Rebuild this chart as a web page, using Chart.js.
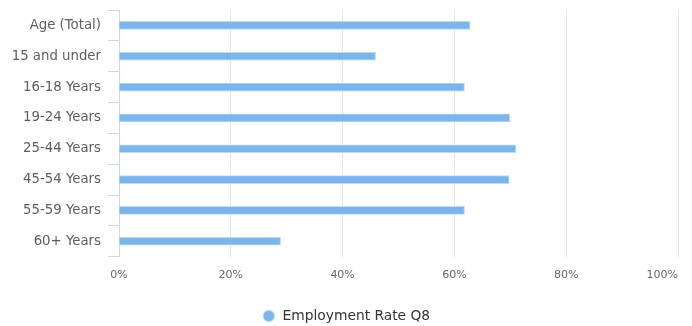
<!DOCTYPE html>
<html>
<head>
<meta charset="utf-8">
<title>Employment Rate Q8 by Age</title>
<script src="https://cdn.jsdelivr.net/npm/chart.js@4/dist/chart.umd.min.js"></script>
<style>
  html, body { margin: 0; padding: 0; background: #ffffff; }
  #wrap { width: 692px; height: 326px; position: relative; }
</style>
</head>
<body>
<div id="wrap"><canvas id="chart"></canvas></div>
<script>
// Age groups shown down the vertical axis
const categories = ['Age (Total)', '15 and under', '16-18 Years', '19-24 Years',
                    '25-44 Years', '45-54 Years', '55-59 Years', '60+ Years'];
// Employment rate (%) for each age group
const employmentRate = [62.8, 45.9, 61.8, 69.9, 71.0, 69.8, 61.8, 28.9];
// Percentage ticks along the horizontal axis
const rateTicks = [0, 20, 40, 60, 80, 100];
const seriesName = 'Employment Rate Q8';

const FONT = "'DejaVu Sans', Verdana, sans-serif";

// Keep the last x tick label ("100%") inside the plot by right-aligning it
const lastTickInside = {
  id: 'lastTickInside',
  beforeDraw(chart) {
    const sc = chart.scales.x;
    const items = sc.getLabelItems(chart.chartArea);
    const last = items[items.length - 1];
    if (last) last.options.textAlign = 'right';
  }
};

new Chart(document.getElementById('chart'), {
  type: 'bar',
  data: {
    labels: categories,
    datasets: [{
      label: seriesName,
      data: employmentRate,
      backgroundColor: '#7cb5ec',
      borderColor: '#bcd9f5',
      borderWidth: 1,
      borderSkipped: 'start',
      barThickness: 8,
      pointStyle: 'circle'
    }]
  },
  options: {
    indexAxis: 'y',
    responsive: true,
    maintainAspectRatio: false,
    animation: false,
    layout: { padding: { top: 10, right: 0, left: 0, bottom: -6.9 } },
    scales: {
      x: {
        min: 0,
        max: 100,
        afterBuildTicks(scale) {
          scale.ticks = rateTicks.map(v => ({ value: v }));
        },
        afterFit(scale) {
          // room on the right of the plot, while the legend keeps full width
          scale.paddingLeft = 0;
          scale.paddingRight = 14;
          scale.height = 48.4;
        },
        grid: { color: '#e6e6e6', drawTicks: false, lineWidth: 1 },
        border: { display: false },
        ticks: {
          color: '#666666',
          font: { family: FONT, size: 11 },
          padding: 12,
          maxRotation: 0,
          callback: v => v + '%'
        }
      },
      y: {
        afterFit(scale) {
          scale.width = 119;
          scale.paddingTop = 0;
          scale.paddingBottom = 0;
        },
        grid: {
          color: '#ccd6eb',
          drawOnChartArea: false,
          drawTicks: true,
          tickLength: 11,
          offset: true
        },
        border: { display: true, color: '#ccd6eb', width: 1 },
        ticks: {
          color: '#5e5e5e',
          font: { family: FONT, size: 13.3 },
          padding: 7
        }
      }
    },
    plugins: {
      legend: {
        position: 'bottom',
        labels: {
          usePointStyle: true,
          boxHeight: 8,
          boxWidth: 14,
          padding: 4,
          color: '#333333',
          font: { family: FONT, size: 13.8 }
        }
      },
      tooltip: { enabled: false }
    }
  },
  plugins: [lastTickInside]
});
</script>
</body>
</html>
